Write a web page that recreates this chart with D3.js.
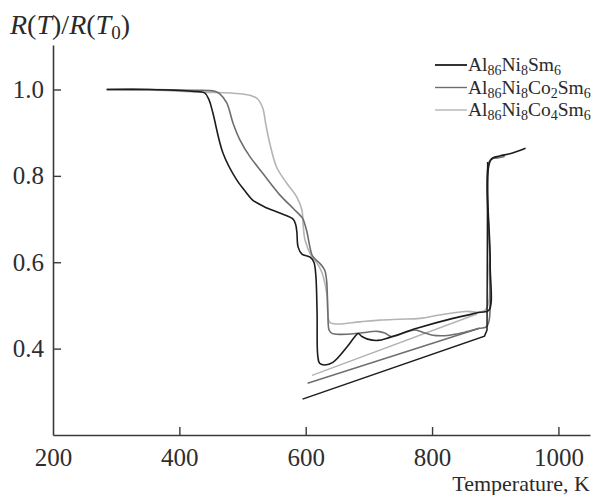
<!DOCTYPE html>
<html>
<head>
<meta charset="utf-8">
<script src="https://cdn.jsdelivr.net/npm/d3@7"></script>
<style>
  html, body { margin: 0; padding: 0; background: #fff; }
  svg { display: block; font-family: "Liberation Serif", "DejaVu Serif", serif; }
</style>
</head>
<body>
<svg id="chart" width="598" height="495"></svg>
<script>
// ---- data (temperature K, R(T)/R(T0)) ----
const seriesNames = ["Al86Ni8Sm6", "Al86Ni8Co2Sm6", "Al86Ni8Co4Sm6"];
const seriesColors = ["#1c1c1c", "#6e6e6e", "#b4b4b4"];

const sm6Heating = [[285,1.000],[353,1.000],[420,0.996],[440,0.992],[447,0.976],[453,0.946],[469,0.853],[491,0.790],[504,0.765],[516,0.744],[535,0.728],[559,0.714],[580,0.700],[584,0.688],[586,0.670],[588,0.635],[594,0.619],[607,0.612],[613,0.600],[616,0.570],[618,0.482],[619,0.385],[622,0.366],[630,0.362],[643,0.368],[665,0.403],[678,0.428],[683,0.435],[689,0.428],[698,0.422],[714,0.419],[733,0.426],[776,0.447],[833,0.470],[876,0.484],[890,0.489],[892,0.600],[893,0.837],[907,0.846],[923,0.851],[948,0.864]];
const sm6Cooling = [[888,0.832],[887,0.443],[883,0.429],[595,0.283]];

const co2Heating = [[285,1.000],[353,1.000],[420,0.998],[456,0.996],[464,0.990],[475,0.969],[485,0.922],[496,0.883],[512,0.844],[532,0.806],[559,0.756],[580,0.725],[595,0.702],[598,0.691],[602,0.670],[607,0.633],[611,0.614],[622,0.598],[630,0.582],[633,0.559],[635,0.489],[637,0.443],[641,0.436],[654,0.433],[686,0.436],[713,0.440],[725,0.436],[736,0.428],[755,0.436],[772,0.443],[785,0.438],[801,0.431],[828,0.431],[852,0.438],[875,0.447],[887,0.452],[891,0.600],[892,0.836],[905,0.842],[915,0.845]];
const co2Cooling = [[875,0.447],[603,0.320]];

const co4Heating = [[285,1.000],[353,0.999],[433,0.994],[496,0.990],[515,0.985],[524,0.978],[532,0.957],[537,0.918],[543,0.876],[554,0.820],[570,0.783],[586,0.751],[594,0.721],[596,0.686],[599,0.651],[610,0.612],[618,0.598],[626,0.575],[634,0.519],[635,0.482],[638,0.461],[649,0.457],[686,0.462],[717,0.466],[749,0.468],[781,0.470],[812,0.478],[852,0.486],[884,0.489],[891,0.600],[892,0.836],[905,0.842]];
const co4Cooling = [[871,0.480],[610,0.338]];

const xTicks = [200, 400, 600, 800, 1000];
const yTicks = [0.4, 0.6, 0.8, 1.0];

// ---- layout ----
const svg = d3.select("#chart");
const x = d3.scaleLinear().domain([200, 1050]).range([53, 590]);
const y = d3.scaleLinear().domain([0.2, 1.103]).range([435, 45]);

const axisColor = "#3a3a3a";

// x axis
const gx = svg.append("g").attr("transform", `translate(0,${y(0.2)})`)
  .call(d3.axisBottom(x).tickValues(xTicks).tickSizeInner(-8).tickSizeOuter(0).tickPadding(13).tickFormat(d3.format("d")));
gx.select(".domain").attr("stroke", axisColor).attr("stroke-width", 1.6);
gx.selectAll(".tick line").attr("stroke", axisColor).attr("stroke-width", 1.4)
  .filter(d => d === 200).remove();
gx.selectAll(".tick text").attr("font-family", "Liberation Serif").attr("font-size", 25).attr("fill", "#2e2e2e");

// y axis
const gy = svg.append("g").attr("transform", `translate(${x(200)},0)`)
  .call(d3.axisLeft(y).tickValues(yTicks).tickSizeInner(-8).tickSizeOuter(0).tickPadding(9).tickFormat(d3.format(".1f")));
gy.select(".domain").attr("stroke", axisColor).attr("stroke-width", 1.6);
gy.selectAll(".tick line").attr("stroke", axisColor).attr("stroke-width", 1.4);
gy.selectAll(".tick text").attr("font-family", "Liberation Serif").attr("font-size", 25).attr("fill", "#2e2e2e");

// axis titles
const yt = svg.append("text").attr("x", 10).attr("y", 34).attr("font-size", 28).attr("fill", "#2a2a2a");
yt.append("tspan").attr("font-style", "italic").text("R");
yt.append("tspan").text("(");
yt.append("tspan").attr("font-style", "italic").text("T");
yt.append("tspan").text(")/");
yt.append("tspan").attr("font-style", "italic").text("R");
yt.append("tspan").text("(");
yt.append("tspan").attr("font-style", "italic").text("T");
yt.append("tspan").attr("font-size", 19).attr("dy", 5).text("0");
yt.append("tspan").attr("dy", -5).text(")");

svg.append("text").attr("x", 590).attr("y", 491).attr("text-anchor", "end")
  .attr("font-size", 22).attr("fill", "#2a2a2a").text("Temperature, K");

// curves
const smooth = d3.line().x(d => x(d[0])).y(d => y(d[1])).curve(d3.curveCatmullRom.alpha(0.5));
const straight = d3.line().x(d => x(d[0])).y(d => y(d[1]));

const heating = [sm6Heating, co2Heating, co4Heating];
const cooling = [sm6Cooling, co2Cooling, co4Cooling];

// draw lighter first so darker is on top
[2, 1, 0].forEach(i => {
  svg.append("path").attr("d", straight(cooling[i])).attr("fill", "none")
    .attr("stroke", seriesColors[i]).attr("stroke-width", 1.5);
  svg.append("path").attr("d", smooth(heating[i])).attr("fill", "none")
    .attr("stroke", seriesColors[i]).attr("stroke-width", 1.6).attr("stroke-linejoin", "round");
});

// legend
const legendY = [65, 87.5, 110];
seriesNames.forEach((name, i) => {
  const g = svg.append("g");
  g.append("line").attr("x1", 435).attr("x2", 467).attr("y1", legendY[i]).attr("y2", legendY[i])
    .attr("stroke", seriesColors[i]).attr("stroke-width", i === 0 ? 1.8 : 1.4);
  const t = g.append("text").attr("x", 468).attr("y", legendY[i] + 6).attr("font-size", 19.5).attr("fill", "#2a2a2a");
  const parts = name.match(/[A-Za-z]+|\d+/g);
  let sub = false;
  parts.forEach(p => {
    const isNum = /\d/.test(p);
    const tsp = t.append("tspan").text(p);
    if (isNum && !sub) { tsp.attr("dy", 4).attr("font-size", 14); sub = true; }
    else if (isNum) { tsp.attr("font-size", 14); }
    else if (sub) { tsp.attr("dy", -4); sub = false; }
  });
});
</script>
</body>
</html>
